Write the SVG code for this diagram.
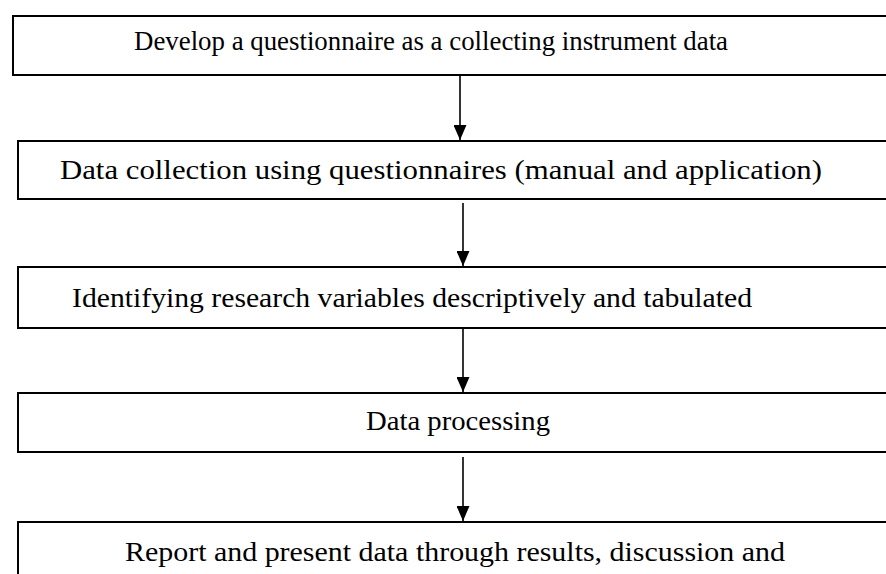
<svg xmlns="http://www.w3.org/2000/svg" width="886" height="574" viewBox="0 0 886 574">
<style>
.box{fill:#fff;stroke:#000;stroke-width:2}
.t{font-family:"Liberation Serif","DejaVu Serif",serif;font-size:28px;fill:#000}
.c{stroke:#000;stroke-width:1.6;fill:none}
</style>
<defs>
<marker id="ah" viewBox="0 0 15 13" refX="15" refY="6.5" markerWidth="15" markerHeight="13" markerUnits="userSpaceOnUse" orient="auto">
<path d="M0,0 L15,6.5 L0,13 z" fill="#000"/>
</marker>
</defs>
<g id="n1"><rect class="box" x="13" y="16" width="880" height="59"/><text class="t" x="134" y="50" style="font-size:26.5px" textLength="594" lengthAdjust="spacingAndGlyphs">Develop a questionnaire as a collecting instrument data</text></g>
<g id="n2"><rect class="box" x="18" y="141" width="880" height="58"/><text class="t" x="60" y="179" textLength="762" lengthAdjust="spacingAndGlyphs">Data collection using questionnaires (manual and application)</text></g>
<g id="n3"><rect class="box" x="18" y="267" width="880" height="61"/><text class="t" x="72" y="307" textLength="680" lengthAdjust="spacingAndGlyphs">Identifying research variables descriptively and tabulated</text></g>
<g id="n4"><rect class="box" x="18" y="393" width="880" height="59"/><text class="t" x="366" y="430" textLength="184" lengthAdjust="spacingAndGlyphs">Data processing</text></g>
<g id="n5"><rect class="box" x="18" y="522" width="880" height="70"/><text class="t" x="125" y="561" textLength="660" lengthAdjust="spacingAndGlyphs">Report and present data through results, discussion and</text></g>
<g id="connectors">
<line class="c" x1="460" y1="76" x2="460" y2="140" marker-end="url(#ah)"/>
<line class="c" x1="463" y1="203" x2="463" y2="266" marker-end="url(#ah)"/>
<line class="c" x1="463" y1="329" x2="463" y2="392" marker-end="url(#ah)"/>
<line class="c" x1="463" y1="457" x2="463" y2="521" marker-end="url(#ah)"/>
</g>
</svg>
